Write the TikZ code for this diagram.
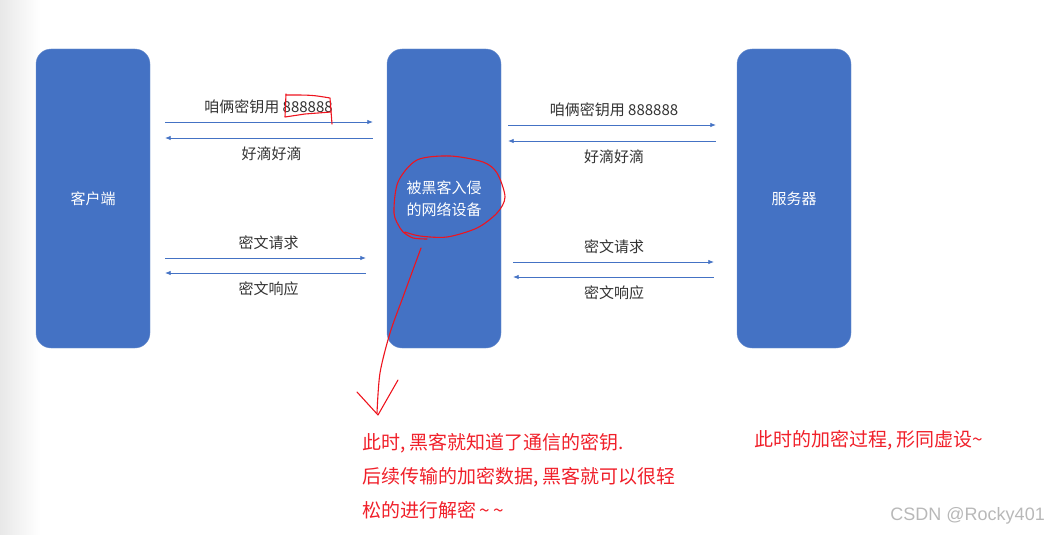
\documentclass[tikz,border=0pt]{standalone}
\usepackage{fontspec}
\setmainfont{Noto Sans CJK SC}
\newfontfamily\wmfont{Liberation Sans}
\usepackage{xcolor}
\usetikzlibrary{arrows.meta}
\definecolor{boxblue}{RGB}{68,114,196}
\definecolor{boxedge}{RGB}{112,146,206}
\definecolor{penred}{RGB}{238,20,30}
\definecolor{notered}{RGB}{240,32,42}

\begin{document}
\begin{tikzpicture}[x=1pt,y=-1pt,
  box/.style={draw=boxedge,fill=boxblue,rounded corners=15pt,minimum width=114pt,minimum height=299pt,
    text=white,font=\fontsize{15}{22}\selectfont,align=center,inner sep=0pt},
  msg/.style={draw=boxblue,line width=0.7pt,-{Latex[length=5.5pt,width=4.5pt]}},
  lbl/.style={font=\fontsize{15}{18}\selectfont,text=black!80,inner sep=0pt},
  pen/.style={draw=penred,line width=1.1pt,line cap=round,line join=round},
  note/.style={text=notered,font=\fontsize{19}{34}\selectfont,align=left,inner sep=0pt}]
\useasboundingbox (0,0) rectangle (1049,535);
\shade[left color=black!9,right color=white] (0,0) rectangle (40,535);

% the three parties
\node[box] (client) at (93,198.5) {客户端};
\node[box] (hub) at (444,198.5) {被黑客入侵\\的网络设备};
\node[box] (server) at (794,198.5) {服务器};

% client <-> hacked device
\draw[msg,shorten <=15pt,shorten >=14pt] ([yshift=76.5pt]client.east) -- ([yshift=76.5pt]hub.west) node[lbl,midway,above=8pt] (keyleft) {咱俩密钥用 888888};
\draw[msg,shorten <=14pt,shorten >=15pt] ([yshift=60.5pt]hub.west) -- ([yshift=60.5pt]client.east) node[lbl,midway,below=8pt,xshift=3pt] {好滴好滴};
\draw[msg,shorten <=15pt,shorten >=21pt] ([yshift=-59.5pt]client.east) -- ([yshift=-59.5pt]hub.west) node[lbl,midway,above=8pt] {密文请求};
\draw[msg,shorten <=21pt,shorten >=15pt] ([yshift=-74.5pt]hub.west) -- ([yshift=-74.5pt]client.east) node[lbl,midway,below=8pt] {密文响应};

% hacked device <-> server
\draw[msg,shorten <=7pt,shorten >=21pt] ([yshift=73.5pt]hub.east) -- ([yshift=73.5pt]server.west) node[lbl,midway,above=8pt,xshift=-5pt] {咱俩密钥用 888888};
\draw[msg,shorten <=21pt,shorten >=7pt] ([yshift=57.5pt]server.west) -- ([yshift=57.5pt]hub.east) node[lbl,midway,below=8pt,xshift=-5pt] {好滴好滴};
\draw[msg,shorten <=12pt,shorten >=23pt] ([yshift=-63.5pt]hub.east) -- ([yshift=-63.5pt]server.west) node[lbl,midway,above=8pt,xshift=-5pt] {密文请求};
\draw[msg,shorten <=23pt,shorten >=12pt] ([yshift=-78.5pt]server.west) -- ([yshift=-78.5pt]hub.east) node[lbl,midway,below=8pt,xshift=-5pt] {密文响应};

% red scribbles
\draw[pen] (286,94) -- (285,117) -- (305,114) -- (331,112);
\draw[pen] (286,95) .. controls (312,95) .. (330,98) -- (332,124);
\draw[pen] plot[smooth] coordinates {(427,239) (413,238) (403,232) (400,228) (394,213) (398,182) (417,160) (450,156) (483,162) (497,173) (505,197) (497,213) (477,228) (447,237) (420,236) (405,232)};
\draw[pen] plot[smooth] coordinates {(421,248) (403,297) (390,333) (380,373) (377,413)};
\draw[pen] (357,392) -- (378,415) -- (398,380);

% notes
\node[note,anchor=north west] (leak) at (362,433) {此时, 黑客就知道了通信的密钥.\\后续传输的加密数据, 黑客就可以很轻\\松的进行解密\,\textasciitilde\,\textasciitilde};
\node[note,anchor=north west] (fake) at (754,430) {此时的加密过程, 形同虚设\textasciitilde};
\node[text=black!28,font=\wmfont\fontsize{18}{18}\selectfont,anchor=east,inner sep=0pt] (mark) at (1045,516) {CSDN @Rocky401};
\end{tikzpicture}
\end{document}
